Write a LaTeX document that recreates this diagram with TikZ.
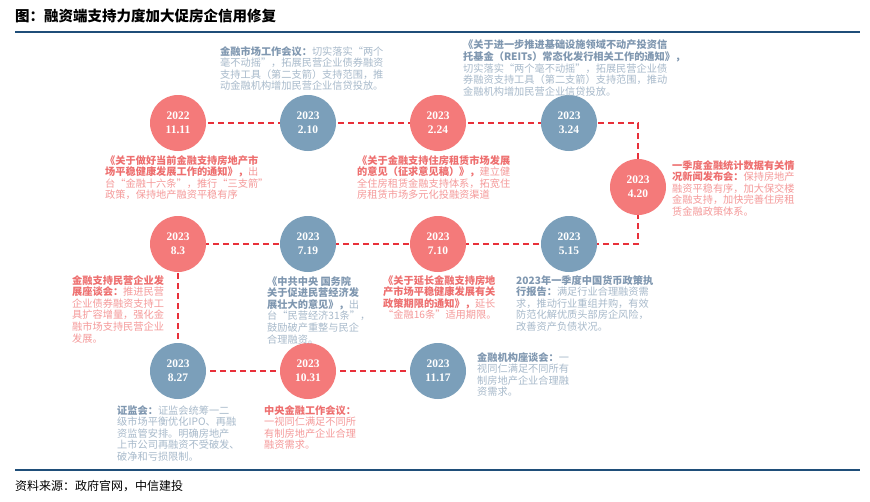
\documentclass[tikz,border=0pt]{standalone}
\usepackage{fontspec}
\setmainfont{Liberation Serif}
\newfontfamily\cjk{Noto Sans CJK SC}
\definecolor{cred}{HTML}{F47A7A}
\definecolor{cblue}{HTML}{7B9FBA}
\definecolor{tred}{HTML}{F59A9A}
\definecolor{tredb}{HTML}{EE6F6F}
\definecolor{tblue}{HTML}{A8BACB}
\definecolor{tblueb}{HTML}{7F97B0}
\definecolor{rulec}{HTML}{1F4E79}
\definecolor{dline}{HTML}{E8303A}
\newcommand\RB[1]{\textcolor{tredb}{\bfseries #1}}
\newcommand\BB[1]{\textcolor{tblueb}{\bfseries #1}}
\begin{document}
\begin{tikzpicture}[x=1pt,y=-1pt,
  dot/.style={circle,minimum size=56pt,inner sep=0pt,text=white,font=\bfseries\fontsize{11.5}{13.5}\selectfont,align=center},
  rdot/.style={dot,fill=cred},
  bdot/.style={dot,fill=cblue},
  txt/.style={anchor=north west,inner sep=0pt,align=left,font=\cjk\fontsize{10.2}{11.6}\selectfont},
  rtxt/.style={txt,text=tred},
  btxt/.style={txt,text=tblue},
  link/.style={dline,dash pattern=on 6pt off 4pt,line width=1.2pt}]
\useasboundingbox (0,0) rectangle (870,501);
\fill[white] (0,0) rectangle (870,501);
\node[anchor=west,inner sep=0pt,font=\cjk\bfseries\fontsize{14.5}{16}\selectfont] (title) at (15,16) {图：融资端支持力度加大促房企信用修复};
\draw[rulec,line width=2.5pt] (15,32) -- (860,32);
\draw[rulec,line width=2pt] (15,470) -- (860,470);
\node[anchor=west,inner sep=0pt,font=\cjk\fontsize{12}{14}\selectfont] (src) at (15,486) {资料来源：政府官网，中信建投};
\coordinate (c1) at (638,123);
\coordinate (c2) at (638,244);
\coordinate (a1) at (178,123);
\coordinate (a2) at (178,244);
\coordinate (a3) at (178,371);
\coordinate (e3) at (438,371);
\draw[link] (a1) -- (c1) -- (c2) -- (a2) -- (a3) -- (e3);
\node[rdot] (n1) at (178,123) {2022\\11.11};
\node[bdot] (n2) at (308,123) {2023\\2.10};
\node[rdot] (n3) at (438,123) {2023\\2.24};
\node[bdot] (n4) at (569,123) {2023\\3.24};
\node[rdot] (n5) at (638,187) {2023\\4.20};
\node[bdot] (n6) at (569,244) {2023\\5.15};
\node[rdot] (n7) at (438,244) {2023\\7.10};
\node[bdot] (n8) at (308,244) {2023\\7.19};
\node[rdot] (n9) at (178,244) {2023\\8.3};
\node[bdot] (n10) at (178,371) {2023\\8.27};
\node[rdot] (n11) at (308,371) {2023\\10.31};
\node[bdot] (n12) at (438,371) {2023\\11.17};
\node[btxt] (t2) at (220,46) {\BB{金融市场工作会议：}切实落实“两个\\毫不动摇”，拓展民营企业债券融资\\支持工具（第二支箭）支持范围，推\\动金融机构增加民营企业信贷投放。};
\node[btxt] (t4) at (463,40) {\BB{《关于进一步推进基础设施领域不动产投资信}\\\BB{托基金（REITs）常态化发行相关工作的通知》，}\\切实落实“两个毫不动摇”，拓展民营企业债\\券融资支持工具（第二支箭）支持范围，推动\\金融机构增加民营企业信贷投放。};
\node[rtxt] (t1) at (105,155) {\RB{《关于做好当前金融支持房地产市}\\\RB{场平稳健康发展工作的通知》，}出\\台“金融十六条”，推行“三支箭”\\政策，保持地产融资平稳有序};
\node[rtxt] (t3) at (357,155) {\RB{《关于金融支持住房租赁市场发展}\\\RB{的意见（征求意见稿）》，}建立健\\全住房租赁金融支持体系，拓宽住\\房租赁市场多元化投融资渠道};
\node[rtxt] (t5) at (672,160) {\RB{一季度金融统计数据有关情}\\\RB{况新闻发布会：}保持房地产\\融资平稳有序，加大保交楼\\金融支持，加快完善住房租\\赁金融政策体系。};
\node[rtxt] (t9) at (72,275) {\RB{金融支持民营企业发}\\\RB{展座谈会：}推进民营\\企业债券融资支持工\\具扩容增量，强化金\\融市场支持民营企业\\发展。};
\node[btxt] (t8) at (267,276) {\BB{《中共中央 国务院}\\\BB{关于促进民营经济发}\\\BB{展壮大的意见》，}出\\台“民营经济31条”，\\鼓励破产重整与民企\\合理融资。};
\node[rtxt] (t7) at (383,275) {\RB{《关于延长金融支持房地}\\\RB{产市场平稳健康发展有关}\\\RB{政策期限的通知》，}延长\\“金融16条”适用期限。};
\node[btxt] (t6) at (516,275) {\BB{2023年一季度中国货币政策执}\\\BB{行报告：}满足行业合理融资需\\求，推动行业重组并购，有效\\防范化解优质头部房企风险，\\改善资产负债状况。};
\node[btxt] (t10) at (117,405) {\BB{证监会：}证监会统筹一二\\级市场平衡优化IPO、再融\\资监管安排。明确房地产\\上市公司再融资不受破发、\\破净和亏损限制。};
\node[rtxt] (t11) at (264,405) {\RB{中央金融工作会议：}\\一视同仁满足不同所\\有制房地产企业合理\\融资需求。};
\node[btxt] (t12) at (477,352) {\BB{金融机构座谈会：}一\\视同仁满足不同所有\\制房地产企业合理融\\资需求。};
\end{tikzpicture}
\end{document}
